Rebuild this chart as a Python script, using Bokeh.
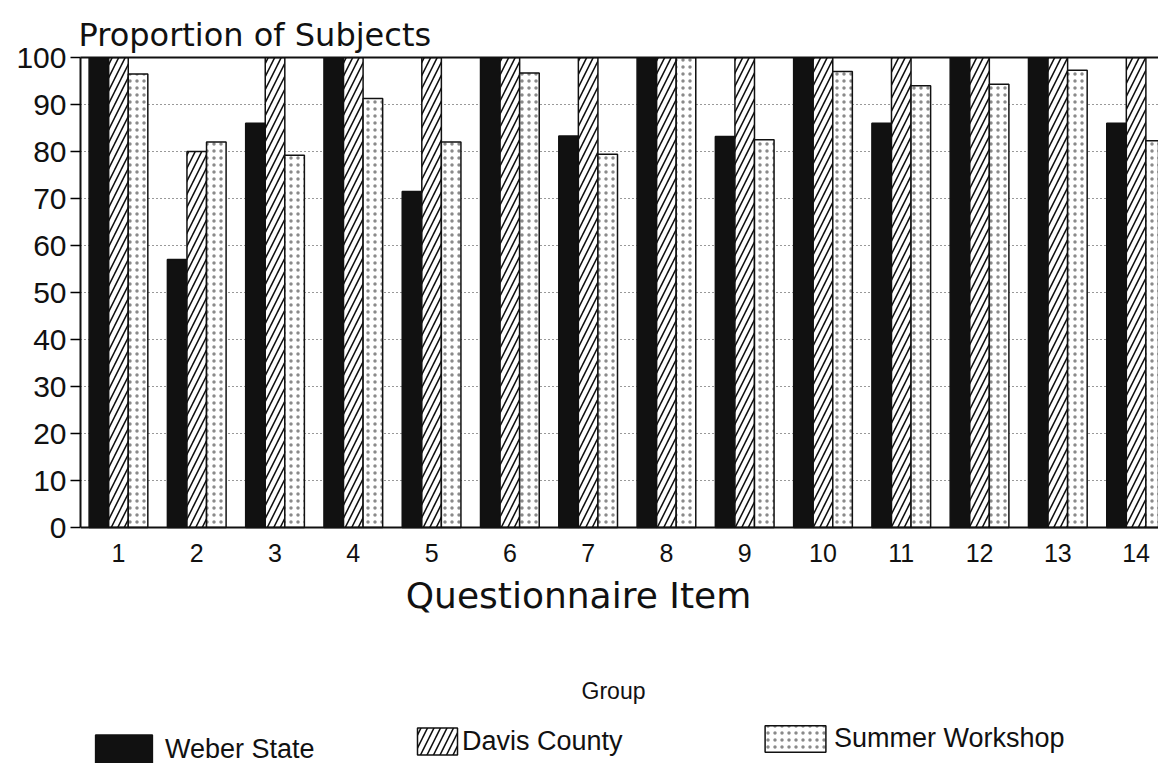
from bokeh.plotting import figure
from bokeh.models import (ColumnDataSource, Range1d, FixedTicker, LinearAxis, Label,
                          Legend, LegendItem)
from bokeh.transform import dodge
from bokeh.embed import file_html
from bokeh.resources import INLINE

items = list(range(1, 15))
item_labels = [str(i) for i in items]
weber = [100, 57, 86, 100, 71.5, 100, 83.3, 100, 83.2, 100, 86, 100, 100, 86]
davis = [100, 80, 100, 100, 100, 100, 100, 100, 100, 100, 100, 100, 100, 100]
summer = [96.5, 82, 79.2, 91.3, 82, 96.7, 79.4, 100, 82.5, 97, 94, 94.3, 97.3, 82.3]
group_names = ["Weber State", "Davis County", "Summer Workshop"]
y_ticks = list(range(0, 101, 10))

# ---- layout constants (pixels) ----
W, H = 1158, 763
LEFT, TOP = 80, 57
ZERO_PX = 527            # page y of value 0
PX_PER_UNIT = 4.7        # pixels per percentage point
PX_PER_ITEM = 78.28
X_START = 0.515

def dx(px):
    return X_START + (px - LEFT) / PX_PER_ITEM

def dy(py):
    return (ZERO_PX - py) / PX_PER_UNIT

src = ColumnDataSource(dict(item=items, weber=weber, davis=davis, summer=summer))

p = figure(width=W, height=H, output_backend="svg", toolbar_location=None,
           x_range=Range1d(X_START, dx(W)), y_range=Range1d(dy(H), 100),
           x_axis_location=None, y_axis_location=None,
           min_border_left=LEFT, min_border_right=0, min_border_top=TOP,
           min_border_bottom=0)
p.background_fill_color = "white"
p.border_fill_color = "white"
p.outline_line_color = None

p.title.text = "Proportion of Subjects"
p.title.align = "left"
p.title.text_font = "DejaVu Sans"
p.title.text_font_size = "32px"
p.title.text_font_style = "normal"
p.title.text_color = "#111111"
p.title.standoff = 7
p.title.offset = -2

# grid
p.xgrid.visible = False
p.ygrid.ticker = FixedTicker(ticks=y_ticks[1:-1])
p.ygrid.grid_line_color = "#333333"
p.ygrid.grid_line_dash = "1 3"
p.ygrid.grid_line_width = 1

# bars
w = 0.25
r1 = p.vbar(x=dodge("item", -0.25), top="weber", width=w, source=src,
            fill_color="#111111", line_color="#111111", line_width=1.5)
r2 = p.vbar(x=dodge("item", 0.0), top="davis", width=w, source=src,
            fill_color="white", line_color="#111111", line_width=1.5,
            hatch_pattern="/", hatch_color="#111111", hatch_scale=13, hatch_weight=1.6)
r3 = p.vbar(x=dodge("item", 0.25), top="summer", width=w, source=src,
            fill_color="white", line_color="#111111", line_width=1.5,
            hatch_pattern=".", hatch_color="#8a8a8a", hatch_scale=7, hatch_weight=0.8)

# axes
xa = LinearAxis(fixed_location=0, ticker=FixedTicker(ticks=items),
                major_label_overrides={i: s for i, s in zip(items, item_labels)},
                major_tick_out=0, major_tick_in=0, minor_tick_line_color=None,
                axis_line_width=2, axis_line_color="#111111",
                major_label_text_font="Liberation Sans",
                major_label_text_font_size="25px",
                major_label_text_color="#111111", major_label_standoff=16)
p.add_layout(xa, "below")

ya = LinearAxis(ticker=FixedTicker(ticks=y_ticks), bounds=(0, 100),
                major_tick_out=10, major_tick_in=0, major_tick_line_width=1.5,
                minor_tick_line_color=None, axis_line_width=2,
                axis_line_color="#111111", major_label_text_font="Liberation Sans",
                major_label_text_font_size="30px", major_label_text_color="#111111",
                major_label_standoff=4)
p.add_layout(ya, "left")

top_axis = LinearAxis(ticker=FixedTicker(ticks=[]), axis_line_width=2,
                      axis_line_color="#111111", major_tick_line_color=None,
                      minor_tick_line_color=None, major_label_text_font_size="0px")
p.add_layout(top_axis, "above")

p.add_layout(Label(x=dx(578), y=dy(595), text="Questionnaire Item",
                   text_align="center", text_baseline="middle",
                   text_font="DejaVu Sans", text_font_size="36px",
                   text_color="#111111"))
p.add_layout(Label(x=dx(613), y=dy(690), text="Group",
                   text_align="center", text_baseline="middle",
                   text_font="Liberation Sans", text_font_size="23px",
                   text_color="#111111"))

def make_legend(label, rend, x, y, gw, gh, standoff):
    lg = Legend(items=[LegendItem(label=label, renderers=[rend])],
                location=(x, y), orientation="horizontal",
                glyph_width=gw, glyph_height=gh, label_standoff=standoff,
                padding=0, margin=0, spacing=0,
                border_line_color=None, background_fill_alpha=0,
                label_text_font="Liberation Sans", label_text_font_size="27px",
                label_text_color="#111111", label_height=gh)
    p.add_layout(lg, "center")

make_legend(group_names[0], r1, 8, -4, 71, 36, 6)
make_legend(group_names[1], r2, 332, 5, 50, 34, 0)
make_legend(group_names[2], r3, 677, 8, 76, 33, 1)

open("out.html", "w").write(file_html(p, INLINE))
